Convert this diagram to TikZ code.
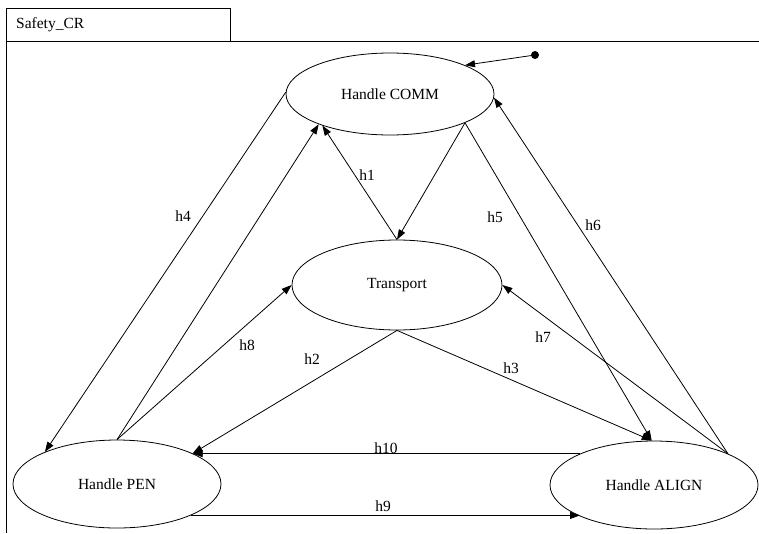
\documentclass[tikz,border=0pt]{standalone}
\usepackage{fontspec}
\setmainfont{Liberation Serif}
\usetikzlibrary{shapes.geometric,arrows.meta}
\begin{document}
\begin{tikzpicture}[x=1pt,y=-1pt,
  state/.style={ellipse,draw,line width=0.8pt,inner sep=0pt,minimum width=208pt,minimum height=88pt,font=\fontsize{15.5}{18}\selectfont},
  edge/.style={line width=0.8pt,-{Triangle[length=10pt,width=7pt]}},
  lbl/.style={font=\fontsize{15.5}{18}\selectfont,inner sep=0pt},
  frameline/.style={line width=0.8pt}]
\useasboundingbox (0,0) rectangle (759,533);
% frame
\draw[frameline] (6,8) rectangle (230,41);
\node[lbl,anchor=west] (title) at (16,25) {Safety\_CR};
\draw[frameline] (759,41) -- (6,41) -- (6,533);
% states
\node[state,minimum height=82pt] (comm) at (390,94) {Handle COMM};
\node[state,minimum width=210pt,minimum height=90pt] (trans) at (397,285) {Transport};
\node[state] (pen) at (117,484) {Handle PEN};
\node[state] (align) at (654,485) {Handle ALIGN};
% initial
\fill (535,55) circle (4pt);
\coordinate (init) at (535,55);
\draw[edge] (init) -- (comm.21);
% edges
\draw[edge] (comm.-21.7) -- (trans.90);
\draw[edge] (trans.90) -- (comm.205.6);
\draw[edge] (comm.179) -- (pen.156);
\draw[edge] (pen.90) -- (comm.203.4);
\draw[edge] (pen.90) -- (trans.180);
\draw[edge] (comm.-21.7) -- (align.93);
\draw[edge] (align.23.7) -- (comm.-2.8);
\draw[edge] (align.23.7) -- (trans.0);
\draw[edge] (trans.270) -- (pen.22.2);
\draw[edge] (trans.270) -- (align.93);
\draw[edge] (align.157.3) -- (pen.22.2 |- align.157.3);
\draw[edge] (pen.-23.7) -- (pen.-23.7 -| align.203.3);
% labels
\node[lbl] (l1) at (367,175) {h1};
\node[lbl] (l2) at (312,359) {h2};
\node[lbl] (l3) at (511,368) {h3};
\node[lbl] (l4) at (183,216) {h4};
\node[lbl] (l5) at (495,217) {h5};
\node[lbl] (l6) at (593,225) {h6};
\node[lbl] (l7) at (543,337) {h7};
\node[lbl] (l8) at (247,345) {h8};
\node[lbl] (l9) at (383,506) {h9};
\node[lbl] (l10) at (386,448) {h10};
\end{tikzpicture}
\end{document}
